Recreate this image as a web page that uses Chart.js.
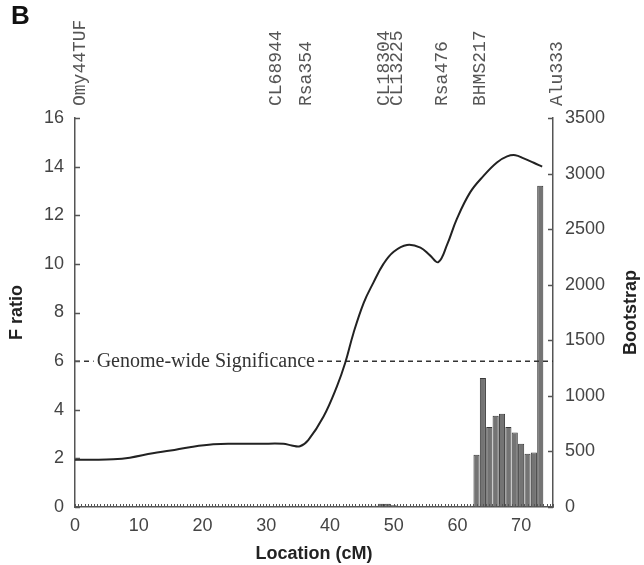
<!DOCTYPE html>
<html>
<head>
<meta charset="utf-8">
<script src="https://cdn.jsdelivr.net/npm/chart.js@4/dist/chart.umd.min.js"></script>
<style>
  html, body { margin: 0; padding: 0; background: #fff; }
  #wrap { width: 644px; height: 565px; position: relative; }
</style>
</head>
<body>
<div id="wrap"><canvas id="c"></canvas></div>
<script>
// ── DATA ──────────────────────────────────────────────────────────────────
// F ratio profile along the linkage group
const curveLoc = [0, 3, 6, 8.6, 12.2, 15, 18, 21.7, 25, 29, 32.7, 34, 35.3, 36.6, 39, 41.1, 42.4, 43.7,
                  45.3, 46.8, 48.4, 50, 52.1, 54.2, 55.7, 57, 58.4, 59.9, 62, 64.1, 66.2, 67.8, 69.1,
                  70.4, 71.9, 73.3];
const fRatio   = [1.94, 1.94, 1.96, 2.03, 2.21, 2.32, 2.46, 2.58, 2.6, 2.6, 2.6, 2.53, 2.5, 2.75, 3.72,
                  4.96, 5.93, 7.16, 8.4, 9.22, 10.0, 10.5, 10.78, 10.67, 10.35, 10.07, 10.8, 11.84, 12.94,
                  13.62, 14.17, 14.42, 14.47, 14.34, 14.17, 14.0];

// bootstrap counts of the peak position (1 cM bins)
const bootLoc   = [44, 45, 46, 47, 48, 49, 50, 51, 52, 53, 61, 62, 63, 64, 65, 66, 67, 68, 69, 70, 71, 72, 73];
const bootCount = [8, 8, 10, 12, 30, 30, 15, 10, 8, 5, 8, 12, 470, 1160, 720, 820, 840, 720, 670, 570, 480, 490, 2890];

// genome-wide threshold
const threshLoc = [0, 75];
const threshVal = [6, 6];
const threshLabel = 'Genome-wide Significance';

// markers printed above the plot
const markerNames = ['Omy44TUF', 'CL68944', 'Rsa354', 'CL18304', 'CL13225', 'Rsa476', 'BHMS217', 'Alu333'];
const markerPos   = [0.8, 31.6, 36.3, 48.5, 50.6, 57.6, 63.6, 75.7];

const xTicks = [0, 10, 20, 30, 40, 50, 60, 70];

// ── HELPERS ───────────────────────────────────────────────────────────────
const SANS  = '"Liberation Sans", Arial, sans-serif';
const SERIF = '"Liberation Serif", "Times New Roman", serif';
const MONO  = '"Liberation Mono", "Courier New", monospace';
const AXIS  = '#555';

const pts = (xs, ys) => xs.map((x, i) => ({ x, y: ys[i] }));

// ── DECORATIONS: inner ticks, marker names, threshold label ─────────────
const decor = {
  id: 'decor',
  afterDraw(chart) {
    const { ctx, chartArea: a } = chart;
    const x = chart.scales.x, y = chart.scales.y, y1 = chart.scales.y1;
    ctx.save();

    // minor ticks along the bottom axis
    ctx.strokeStyle = AXIS;
    ctx.lineWidth = 1;
    ctx.beginPath();
    for (let v = 0; v <= 75; v += 0.5) {
      const px = Math.round(x.getPixelForValue(v)) + 0.5;
      ctx.moveTo(px, a.bottom);
      ctx.lineTo(px, a.bottom - 3);
    }
    ctx.stroke();

    // inward major ticks on both y axes
    ctx.lineWidth = 1.5;
    ctx.beginPath();
    y.ticks.forEach(t => {
      const py = Math.round(y.getPixelForValue(t.value)) + 0.5;
      ctx.moveTo(a.left, py); ctx.lineTo(a.left + 5, py);
    });
    y1.ticks.forEach(t => {
      const py = Math.round(y1.getPixelForValue(t.value)) + 0.5;
      ctx.moveTo(a.right - 5, py); ctx.lineTo(a.right, py);
    });
    ctx.stroke();

    // threshold label over the dashed line
    ctx.font = '20px ' + SERIF;
    ctx.textBaseline = 'middle';
    ctx.textAlign = 'left';
    const tx = x.getPixelForValue(3.4);
    const ty = y.getPixelForValue(threshVal[0]);
    const w = ctx.measureText(threshLabel).width;
    ctx.fillStyle = '#fff';
    ctx.fillRect(tx - 3, ty - 9, w + 6, 18);
    ctx.fillStyle = '#333';
    ctx.fillText(threshLabel, tx, ty + 1);

    // marker names, rotated
    ctx.font = '18px ' + MONO;
    ctx.fillStyle = '#555';
    markerNames.forEach((name, i) => {
      const px = x.getPixelForValue(markerPos[i]);
      ctx.save();
      ctx.translate(px, a.top - 12);
      ctx.rotate(-Math.PI / 2);
      ctx.textAlign = 'left';
      ctx.textBaseline = 'middle';
      ctx.fillText(name, 0, 0);
      ctx.restore();
    });

    // right axis title (reads bottom to top)
    ctx.save();
    ctx.font = 'bold 18px ' + SANS;
    ctx.fillStyle = '#222';
    ctx.translate(631, (a.top + a.bottom) / 2);
    ctx.rotate(-Math.PI / 2);
    ctx.textAlign = 'center';
    ctx.textBaseline = 'middle';
    ctx.fillText('Bootstrap', 0, 0);
    ctx.restore();

    // panel letter
    ctx.font = 'bold 26px ' + SANS;
    ctx.fillStyle = '#111';
    ctx.textAlign = 'left';
    ctx.textBaseline = 'top';
    ctx.fillText('B', 11, 4);

    ctx.restore();
  }
};

// ── CHART ─────────────────────────────────────────────────────────────────
new Chart(document.getElementById('c'), {
  type: 'bar',
  data: {
    datasets: [
      {
        type: 'line', label: 'F ratio', data: pts(curveLoc, fRatio), yAxisID: 'y',
        borderColor: '#222', borderWidth: 2, pointRadius: 0, tension: 0.4, fill: false, order: 0,
      },
      {
        type: 'line', label: 'threshold', data: pts(threshLoc, threshVal), yAxisID: 'y',
        borderColor: '#333', borderWidth: 1.5, borderDash: [5, 4], pointRadius: 0, fill: false, order: 1,
      },
      {
        type: 'bar', label: 'Bootstrap', data: pts(bootLoc, bootCount), yAxisID: 'y1',
        backgroundColor: '#747474', borderColor: '#3a3a3a', borderWidth: 1,
        barPercentage: 0.96, categoryPercentage: 1, order: 2,
      },
    ],
  },
  options: {
    responsive: true, maintainAspectRatio: false, animation: false,
    layout: { padding: { top: 118, left: 0, right: 0, bottom: 0 } },
    plugins: { legend: { display: false }, tooltip: { enabled: false } },
    scales: {
      x: {
        type: 'linear', min: 0, max: 75, offset: false,
        afterFit: s => { s.height = 58; },
        afterBuildTicks: s => { s.ticks = xTicks.map(v => ({ value: v })); },
        grid: { display: true, drawOnChartArea: false, drawTicks: false, offset: false },
        border: { display: true, color: AXIS, width: 1.5 },
        ticks: { color: '#444', font: { family: SANS, size: 18 }, padding: 8, maxRotation: 0 },
        title: { display: true, text: 'Location (cM)', color: '#222',
                 font: { family: SANS, size: 18, weight: 'bold' }, padding: { top: 4, bottom: 0 } },
      },
      y: {
        position: 'left', min: 0, max: 16,
        afterFit: s => { s.width = 75; },
        grid: { drawOnChartArea: false, drawTicks: false },
        border: { display: true, color: AXIS, width: 1.5 },
        ticks: { stepSize: 2, color: '#444', font: { family: SANS, size: 18 }, padding: 11 },
        title: { display: true, text: 'F ratio', color: '#222',
                 font: { family: SANS, size: 18, weight: 'bold' }, padding: { top: 6, bottom: 0 } },
      },
      y1: {
        position: 'right', min: 0, max: 3500,
        afterFit: s => { s.width = 91; },
        grid: { drawOnChartArea: false, drawTicks: false },
        border: { display: true, color: AXIS, width: 1.5 },
        ticks: { stepSize: 500, color: '#444', font: { family: SANS, size: 18 }, padding: 12,
                 callback: v => String(v) },
      },
    },
  },
  plugins: [decor],
});
</script>
</body>
</html>
